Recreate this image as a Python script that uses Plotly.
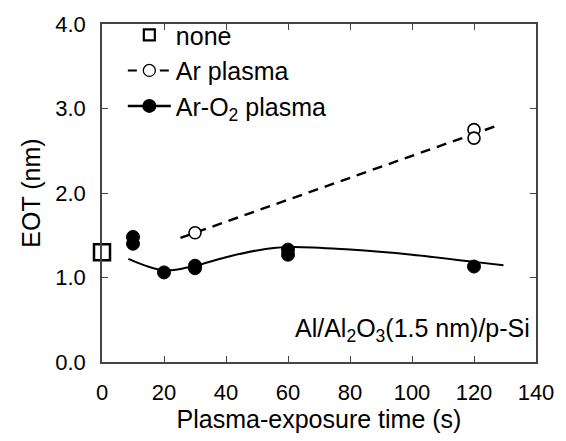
import numpy as np
import plotly.graph_objects as go

# EOT vs plasma-exposure time for Al/Al2O3(1.5 nm)/p-Si
none_t = [0]
none_eot = [1.30]

ar_t = [30, 120, 120]
ar_eot = [1.53, 2.75, 2.65]

aro2_t = [10, 10, 20, 30, 30, 60, 60, 120]
aro2_eot = [1.48, 1.40, 1.06, 1.11, 1.14, 1.33, 1.27, 1.13]

# guide curve through the Ar-O2 data (smoothed by the spline line shape)
aro2_guide_t = [8.5, 20, 30, 40, 50, 60, 80, 100, 120, 129.5]
aro2_guide_eot = [1.22, 1.085, 1.14, 1.24, 1.32, 1.36, 1.33, 1.27, 1.185, 1.145]

# span of the linear fit drawn for Ar plasma
ar_fit_span = [25.3, 126.7]

FONT = "Liberation Sans, Arial, Helvetica, sans-serif"

slope, intercept = np.polyfit(ar_t, ar_eot, 1)
ar_fit_t = np.array(ar_fit_span)
ar_fit_eot = slope * ar_fit_t + intercept

fig = go.Figure()

# fit lines
fig.add_trace(go.Scatter(
    x=ar_fit_t, y=ar_fit_eot, mode="lines",
    line=dict(color="black", width=2.4, dash="10px,7px"),
    showlegend=False, hoverinfo="skip"))
fig.add_trace(go.Scatter(
    x=aro2_guide_t, y=aro2_guide_eot, mode="lines",
    line=dict(color="black", width=2, shape="spline", smoothing=1.0),
    showlegend=False, hoverinfo="skip"))

# data points
fig.add_trace(go.Scatter(
    x=none_t, y=none_eot, mode="markers", cliponaxis=False,
    marker=dict(symbol="square", size=16, color="white",
                line=dict(color="black", width=2.5)),
    showlegend=False))
fig.add_trace(go.Scatter(
    x=ar_t, y=ar_eot, mode="markers", cliponaxis=False,
    marker=dict(symbol="circle", size=12, color="white",
                line=dict(color="black", width=1.6)),
    showlegend=False))
fig.add_trace(go.Scatter(
    x=aro2_t, y=aro2_eot, mode="markers", cliponaxis=False,
    marker=dict(symbol="circle", size=13, color="black",
                line=dict(color="black", width=1)),
    showlegend=False))

# legend entries
fig.add_trace(go.Scatter(
    x=[None], y=[None], mode="markers", name="none",
    marker=dict(symbol="square", size=11, color="white",
                line=dict(color="black", width=2.2))))
fig.add_trace(go.Scatter(
    x=[None], y=[None], mode="lines+markers", name="Ar plasma",
    line=dict(color="black", width=2, dash="9px,7px"),
    marker=dict(symbol="circle", size=12, color="white",
                line=dict(color="black", width=1.3))))
fig.add_trace(go.Scatter(
    x=[None], y=[None], mode="lines+markers", name="Ar-O<sub>2</sub> plasma",
    line=dict(color="black", width=2.5),
    marker=dict(symbol="circle", size=14, color="black")))

fig.add_annotation(
    x=0.99, y=0.095, xref="paper", yref="paper",
    xanchor="right", yanchor="middle", showarrow=False,
    text="Al/Al<sub>2</sub>O<sub>3</sub>(1.5 nm)/p-Si",
    font=dict(family=FONT, size=25, color="black"))

axis_common = dict(
    showline=True, linecolor="#444", linewidth=1.5, mirror="ticks",
    ticks="inside", ticklen=6, tickwidth=1.3, tickcolor="#444",
    showgrid=False, zeroline=False,
    tickfont=dict(family=FONT, size=22, color="black"),
)

fig.update_layout(
    width=566, height=441,
    margin=dict(l=102, r=23, t=15, b=78),
    plot_bgcolor="white", paper_bgcolor="white",
    font=dict(family=FONT, color="black"),
    xaxis=dict(
        range=[0, 140], dtick=20, tick0=0,
        title=dict(text="Plasma-exposure time (s)",
                   font=dict(family=FONT, size=25), standoff=6),
        ticklabelstandoff=10,
        **axis_common),
    yaxis=dict(
        range=[0, 4], dtick=1, tick0=0, tickformat=".1f",
        title=dict(text="EOT (nm)", font=dict(family=FONT, size=25),
                   standoff=8),
        ticklabelstandoff=10,
        **axis_common),
    legend=dict(
        x=0.048, y=1.035, xanchor="left", yanchor="top",
        bgcolor="rgba(0,0,0,0)", borderwidth=0,
        font=dict(family=FONT, size=25, color="black"),
        itemwidth=43, tracegroupgap=0),
)

fig.write_html("out.html")
